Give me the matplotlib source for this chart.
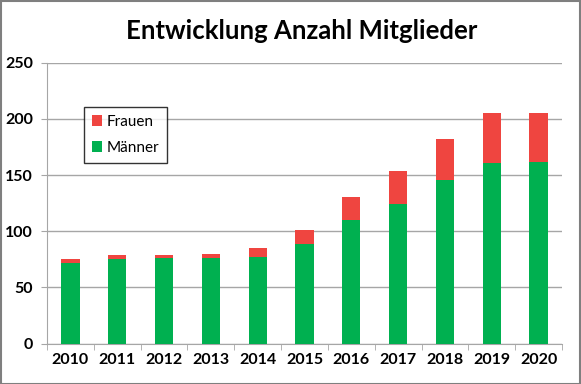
import numpy as np
import matplotlib
matplotlib.use("Agg")
import matplotlib.pyplot as plt
from matplotlib.patches import Rectangle

plt.rcParams['font.family'] = ['Lato', 'DejaVu Sans']

# ── Daten ─────────────────────────────────────────────────────────────────────
jahre   = ['2010', '2011', '2012', '2013', '2014', '2015',
           '2016', '2017', '2018', '2019', '2020']
maenner = [72, 75, 76, 76, 77, 89, 110, 124, 146, 161, 162]
frauen  = [3, 4, 3, 4, 8, 12, 20, 30, 36, 44, 43]

GRUEN = '#00B050'
ROT   = '#EF4540'
GRID  = '#A6A6A6'

fig = plt.figure(figsize=(5.81, 3.84), dpi=100)
ax = fig.add_axes([47 / 581, 1 - 343.5 / 384, (562 - 47) / 581, (343.5 - 62.7) / 384])

x = np.arange(len(jahre))
ax.bar(x, maenner, width=0.39, color=GRUEN, label='Männer', zorder=3)
ax.bar(x, frauen, width=0.39, bottom=maenner, color=ROT, label='Frauen', zorder=3)

ax.set_xlim(-0.5, len(jahre) - 0.5)
ax.set_ylim(0, 250)
ax.set_yticks(range(0, 251, 50))
ax.yaxis.grid(True, color=GRID, linewidth=1, zorder=0)
ax.set_xticks(x)
ax.set_xticklabels(jahre)
ax.set_xticks(np.arange(-0.5, len(jahre), 1), minor=True)
ax.tick_params(axis='x', which='major', length=0, pad=7)
ax.tick_params(axis='x', which='minor', length=4, color=GRID, direction='out')
ax.tick_params(axis='y', length=4, color=GRID, pad=6)
for lab in ax.get_xticklabels() + ax.get_yticklabels():
    lab.set_fontweight('bold')
    lab.set_fontsize(11.5)

for side in ['top', 'right']:
    ax.spines[side].set_visible(False)
for side in ['left', 'bottom']:
    ax.spines[side].set_color(GRID)

handles, labels = ax.get_legend_handles_labels()
leg = ax.legend(handles[::-1], labels[::-1], loc='upper left',
                bbox_to_anchor=(37 / 515, (343.5 - 107) / 280.8),
                borderaxespad=0, frameon=True, fancybox=False, edgecolor='black',
                fontsize=11, handlelength=0.7, handleheight=0.7,
                labelspacing=0.8, borderpad=0.5, handletextpad=0.3)
leg.get_frame().set_linewidth(1)
leg.set_zorder(5)

fig.text(302 / 581, 1 - 31 / 384, 'Entwicklung Anzahl Mitglieder',
         ha='center', va='center', fontsize=18.5, fontweight='bold')

# Rahmen um das Diagramm
fig.patches.append(Rectangle((0.001, 0.001), 0.997, 0.996, transform=fig.transFigure,
                             fill=False, edgecolor='#7F7F7F', linewidth=1.5))

fig.savefig('out.png', dpi=100)
